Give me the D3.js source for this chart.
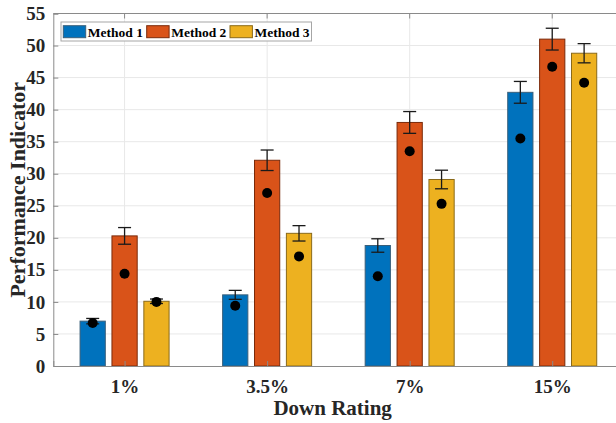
<!DOCTYPE html>
<html>
<head>
<meta charset="utf-8">
<script src="https://cdn.jsdelivr.net/npm/d3@7"></script>
<style>
  html, body { margin: 0; padding: 0; background: #fff; }
  svg { display: block; font-family: "Liberation Serif", "Times New Roman", serif; font-weight: bold; }
</style>
</head>
<body>
<svg id="chart" width="616" height="423"></svg>
<script>
const categories = ["1%", "3.5%", "7%", "15%"];
const seriesNames = ["Method 1", "Method 2", "Method 3"];
const method1 = [7.0, 11.1, 18.8, 42.7];
const method2 = [20.3, 32.1, 38.0, 51.0];
const method3 = [10.1, 20.7, 29.1, 48.8];
const err1 = [0.42, 0.7, 1.05, 1.7];
const err2 = [1.3, 1.6, 1.7, 1.7];
const err3 = [0.35, 1.2, 1.45, 1.5];
const marker1 = [6.7, 9.4, 14.0, 35.5];
const marker2 = [14.4, 27.0, 33.5, 46.7];
const marker3 = [10.0, 17.1, 25.3, 44.2];
const yTicks = [0, 5, 10, 15, 20, 25, 30, 35, 40, 45, 50, 55];

const fills = ["#0072BD", "#D95319", "#EDB120"];
const edges = ["#3a5f7a", "#7a2a0a", "#8a6a1a"];

const values = [method1, method2, method3];
const errs = [err1, err2, err3];
const markers = [marker1, marker2, marker3];

const svg = d3.select("#chart");
const L = 53.3, R = 623.5, T = 13.5, B = 366;

const x = d3.scaleLinear().domain([0.5, categories.length + 0.5]).range([L, R]);
const y = d3.scaleLinear().domain([0, 55]).range([B, T]);
const step = x(2) - x(1);
const off = 0.2237, bw = 0.177;

// grid
const grid = svg.append("g");
grid.selectAll("line.gy").data(yTicks.slice(1)).join("line")
  .attr("x1", L).attr("x2", R).attr("y1", d => y(d)).attr("y2", d => y(d))
  .attr("stroke", "#e8e8e8").attr("stroke-width", 1);
grid.selectAll("line.gx").data(categories).join("line")
  .attr("x1", (d, i) => x(i + 1)).attr("x2", (d, i) => x(i + 1))
  .attr("y1", T).attr("y2", B)
  .attr("stroke", "#e8e8e8").attr("stroke-width", 1);

// bars
const flat = [];
values.forEach((arr, j) => arr.forEach((v, i) => flat.push({ i, j, v, e: errs[j][i], m: markers[j][i] })));
const cx = d => x(d.i + 1 + (d.j - 1) * off);

svg.append("g").selectAll("rect").data(flat).join("rect")
  .attr("x", d => cx(d) - (bw * step) / 2)
  .attr("width", bw * step)
  .attr("y", d => y(d.v))
  .attr("height", d => y(0) - y(d.v))
  .attr("fill", d => fills[d.j])
  .attr("stroke", d => edges[d.j])
  .attr("stroke-width", 1);

// axes (MATLAB style, ticks inside)
const axColor = "#8a8a8a";
const yAxis = d3.axisLeft(y).tickValues(yTicks).tickSize(-5).tickPadding(8).tickFormat(d3.format("d"));
const gy = svg.append("g").attr("transform", `translate(${L},0)`).call(yAxis);
gy.select(".domain").attr("stroke", axColor);
gy.selectAll(".tick line").attr("stroke", axColor);
gy.selectAll(".tick text").attr("fill", "#262626").attr("font-size", 19)
  .attr("font-family", "Liberation Serif").attr("font-weight", "bold");

const xAxis = d3.axisBottom(x).tickValues(categories.map((c, i) => i + 1))
  .tickFormat((d, i) => categories[i]).tickSize(-5).tickPadding(14);
const gx = svg.append("g").attr("transform", `translate(0,${B})`).call(xAxis);
gx.select(".domain").attr("stroke", axColor);
gx.selectAll(".tick line").attr("stroke", axColor);
gx.selectAll(".tick text").attr("fill", "#262626").attr("font-size", 19)
  .attr("font-family", "Liberation Serif").attr("font-weight", "bold");

// top border with ticks
svg.append("line").attr("x1", L).attr("x2", R).attr("y1", T).attr("y2", T).attr("stroke", axColor);
svg.append("g").selectAll("line").data(categories).join("line")
  .attr("x1", (d, i) => x(i + 1)).attr("x2", (d, i) => x(i + 1))
  .attr("y1", T).attr("y2", T + 5).attr("stroke", axColor);

// error bars
const cap = 6.5;
const eg = svg.append("g").attr("stroke", "#1a1a1a").attr("stroke-width", 1.3);
eg.selectAll("line.v").data(flat).join("line")
  .attr("x1", cx).attr("x2", cx)
  .attr("y1", d => y(d.v + d.e)).attr("y2", d => y(d.v - d.e));
eg.selectAll("line.t").data(flat).join("line")
  .attr("x1", d => cx(d) - cap).attr("x2", d => cx(d) + cap)
  .attr("y1", d => y(d.v + d.e)).attr("y2", d => y(d.v + d.e));
eg.selectAll("line.b").data(flat).join("line")
  .attr("x1", d => cx(d) - cap).attr("x2", d => cx(d) + cap)
  .attr("y1", d => y(d.v - d.e)).attr("y2", d => y(d.v - d.e));

// markers
svg.append("g").selectAll("circle").data(flat).join("circle")
  .attr("cx", cx).attr("cy", d => y(d.m)).attr("r", 5).attr("fill", "#000");

// axis titles
svg.append("text").attr("x", (L + 616) / 2 - 2).attr("y", 415).attr("text-anchor", "middle")
  .attr("font-size", 21).attr("fill", "#262626").text("Down Rating");
svg.append("text").attr("transform", `translate(25,${(T + B) / 2 + 0}) rotate(-90)`)
  .attr("text-anchor", "middle").attr("font-size", 22).attr("fill", "#262626").text("Performance Indicator");

// legend
const lg = svg.append("g");
lg.append("rect").attr("x", 61).attr("y", 22).attr("width", 250.5).attr("height", 19)
  .attr("fill", "#fff").attr("stroke", "#a6a6a6").attr("stroke-width", 1);
const legX = [63.3, 146.7, 230];
seriesNames.forEach((n, j) => {
  lg.append("rect").attr("x", legX[j]).attr("y", 25.7).attr("width", 22.4).attr("height", 12)
    .attr("fill", fills[j]).attr("stroke", edges[j]).attr("stroke-width", 1);
  lg.append("text").attr("x", legX[j] + 24.5).attr("y", 36.5).attr("font-size", 13.5)
    .attr("fill", "#000").text(n);
});
</script>
</body>
</html>
